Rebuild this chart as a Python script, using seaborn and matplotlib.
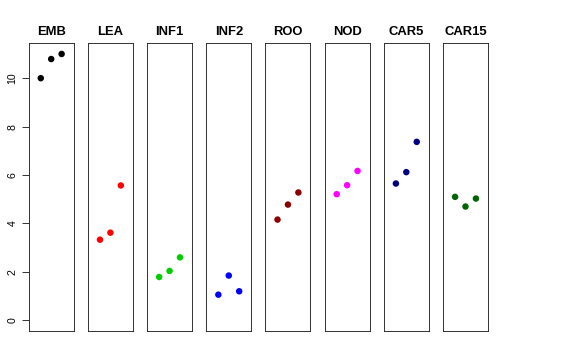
import pandas as pd
import numpy as np
import matplotlib
matplotlib.use('Agg')
import matplotlib.pyplot as plt
import seaborn as sns

tissues = ['EMB', 'LEA', 'INF1', 'INF2', 'ROO', 'NOD', 'CAR5', 'CAR15']
colors = ['black', 'red', '#00CD00', 'blue', '#8B0000', 'magenta', '#000080', '#006400']
reps = [1, 2, 3]
values = {
    'EMB':   [10.00, 10.79, 11.00],
    'LEA':   [3.33, 3.62, 5.57],
    'INF1':  [1.79, 2.04, 2.60],
    'INF2':  [1.06, 1.85, 1.20],
    'ROO':   [4.16, 4.78, 5.28],
    'NOD':   [5.21, 5.58, 6.17],
    'CAR5':  [5.65, 6.12, 7.37],
    'CAR15': [5.10, 4.70, 5.03],
}
yticks = [0, 2, 4, 6, 8, 10]

df = pd.DataFrame([
    {'tissue': t, 'rep': r, 'expr': v}
    for t in tissues for r, v in zip(reps, values[t])
])

sns.set_theme(style='ticks')
plt.rcParams['font.family'] = ['Liberation Sans', 'DejaVu Sans']
plt.rcParams['text.color'] = 'black'
plt.rcParams['ytick.color'] = 'black'
plt.rcParams['ytick.labelcolor'] = 'black'

fig, axes = plt.subplots(1, len(tissues), figsize=(8, 5), dpi=72, sharey=True)
fig.subplots_adjust(left=28.7/576, right=488/576, top=1-43.3/360,
                    bottom=1-331/360, wspace=0.315)

for ax, t, c in zip(axes, tissues, colors):
    sns.scatterplot(x='rep', y='expr', data=df[df['tissue'] == t], ax=ax,
                    color=c, s=42, edgecolor='none', linewidth=0)
    ax.set_xlim(-0.16, 4.16)
    ax.set_ylim(-0.44, 11.44)
    ax.set_xticks([])
    ax.set_xlabel('')
    ax.set_ylabel('')
    ax.set_title(t, fontsize=13, fontweight='bold', pad=8, color='black')
    for sp in ax.spines.values():
        sp.set_color('#222222')
        sp.set_linewidth(0.9)
        sp.set_visible(True)

axes[0].set_yticks(yticks)
axes[0].tick_params(axis='y', left=True, length=7, width=0.9, color='#222222',
                    labelsize=10.5, labelcolor='black', pad=4)
for lab in axes[0].get_yticklabels():
    lab.set_rotation(90)
    lab.set_va('center')
for ax in axes[1:]:
    ax.tick_params(axis='y', left=False, labelleft=False)

plt.savefig('out.png', dpi=72)
